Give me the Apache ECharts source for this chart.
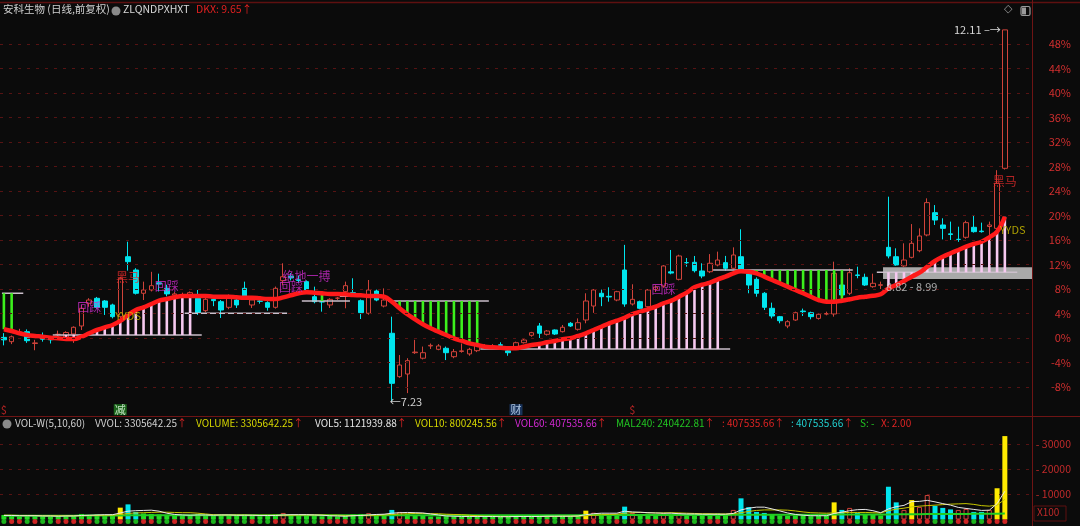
<!DOCTYPE html>
<html><head><meta charset="utf-8">
<script src="https://cdn.jsdelivr.net/npm/echarts@6/dist/echarts.min.js"></script>
<style>html,body{margin:0;padding:0;background:#0b0b0b;}#c{width:1080px;height:526px;}</style>
</head><body><div id="c"></div>
<script>
// ---------- DATA ----------
const days = Array.from({length: 133}, (_, i) => 'D' + (i + 1));
// [open, close, low, high] in % vs base
const candles = [
[0.1,-0.3,-1.2,0.8],[-0.6,0.2,-1.0,0.4],[0.8,1.0,0.5,1.5],[1.03,-0.44,-0.8,1.4],[-0.9,-0.8,-2.0,-0.3],
[0,-0.2,-0.6,0.9],[-0.2,-0.3,-0.9,0.2],[0.6,0.6,0.2,1.2],[0.1,0.9,-0.2,1.1],[0.65,1.75,-0.8,1.9],
[1.96,4.85,1.3,5.4],[5.66,6.2,5.1,6.5],[6.48,5.01,4.8,6.7],[6.04,5.01,3.76,6.2],[5.39,3.48,3.2,5.6],
[3.48,9.75,3.2,10.0],[13.27,12.46,11.0,15.72],[11.1,7.3,7.1,11.4],[7.3,7.84,6.2,9.2],[7.84,8.54,7.6,10.8],
[9.0,8.8,7.6,10.5],[8.1,7.2,6.8,8.7],[7.0,7.2,6.6,7.5],[6.9,7.1,6.7,7.4],[6.64,7.4,6.4,7.6],
[6.48,4.14,3.76,7.84],[4.46,6.31,4.2,6.6],[6.3,6.1,5.2,6.8],[5.93,4.57,3.27,6.2],[5.01,6.86,4.7,7.1],
[6.2,5.39,4.9,6.5],[8.11,6.86,6.2,9.2],[5.39,6.2,4.9,6.4],[6.04,6.0,5.6,6.3],[5.77,5.01,4.46,6.0],
[5.01,8.11,4.8,8.4],[9.36,10.0,8.6,12.2],[10.1,9.8,9.4,10.6],[9.5,9.4,9.0,10.2],[9.2,7.84,7.6,9.4],
[6.74,5.93,5.66,8.38],[5.9,5.9,4.3,6.2],[5.39,6.31,4.9,6.5],[6.5,6.5,6.2,6.7],[7.56,8.54,4.85,9.2],
[7.4,7.2,6.8,9.75],[6.09,4.14,3.1,6.3],[4.03,7.84,3.8,9.47],[7.67,6.2,6.0,7.9],[5.22,6.2,5.0,8.1],
[0.77,-7.4,-10.4,3.48],[-6.31,-4.41,-6.5,-2.78],[-5.88,-3.7,-9.0,-3.3],[-2.4,-2.3,-2.6,-0.3],[-3.3,-2.4,-3.5,-1.4],
[-1.3,-1.2,-1.8,-0.9],[-1.85,-1.3,-2.0,-1.0],[-1.68,-2.4,-3.6,-1.4],[-3.05,-2.24,-3.3,-1.8],[-2.2,-2.1,-2.4,-0.9],
[-2.6,-1.85,-2.9,-1.6],[-2.07,-1.14,-2.3,-0.9],[-1.5,-1.4,-1.8,-1.0],[-1.4,-1.3,-1.7,-1.0],[-1.1,-1.2,-1.5,-0.7],
[-2.1,-2.4,-2.9,-1.9],[-1.68,-0.77,-1.9,-0.6],[-0.77,-0.33,-0.9,0],[0.44,0.87,0.2,1.0],[1.96,0.77,0.0,2.45],
[0.6,1.14,0.4,1.3],[1.31,0.65,0.5,1.4],[1.03,1.75,0.9,2.12],[2.4,1.96,1.8,2.6],[1.42,2.5,1.2,3.2],
[2.94,6.04,2.4,7.3],[5.22,7.84,4.1,8.0],[7.3,6.74,5.2,7.9],[6.8,6.7,5.93,8.28],[6.2,7.56,6.0,7.7],
[11.1,5.55,5.1,15.2],[5.55,6.31,5.3,8.77],[5.93,4.85,4.7,6.1],[5.11,7.84,4.9,8.0],[7.9,8.3,7.5,8.6],
[8.49,11.76,8.2,11.9],[10.8,10.6,10.4,14.37],[9.58,13.39,9.4,13.6],[12.3,12.3,11.64,13.06],[12.36,10.99,10.7,13.39],
[10.94,10.12,9.75,12.2],[10.82,12.2,10.6,13.7],[11.92,12.73,11.7,14.1],[12.3,11.38,11.0,13.4],[11.38,13.55,11.2,14.8],
[13.27,11.2,11.1,17.75],[10.45,8.65,7.3,10.8],[9.58,7.3,6.74,9.9],[7.3,5.01,4.57,7.5],[4.85,3.59,3.2,5.77],
[3.48,2.82,2.4,3.6],[1.96,2.66,1.6,2.9],[2.94,4.13,2.8,4.3],[4.4,4.3,3.6,4.8],[4.13,3.48,3.05,4.3],
[3.2,3.87,3.0,4.0],[3.9,4.0,3.7,4.3],[3.92,10.56,3.48,12.46],[8.65,7.02,6.0,9.0],[7.3,10.66,7.0,11.4],
[10.3,10.2,9.75,11.64],[9.91,8.65,8.5,10.5],[8.38,8.93,8.2,10.5],[8.6,8.7,8.0,9.2],[14.8,13.39,13.0,23.07],
[13.27,11.92,11.8,14.64],[11.76,12.73,11.6,15.46],[13.17,15.46,13.0,18.6],[14.25,16.65,14.0,17.9],[16.82,22.1,16.6,22.8],
[20.46,19.26,18.45,21.7],[18.45,17.9,16.1,19.54],[17.0,16.9,16.0,19.0],[16.1,16.1,15.7,18.17],[16.44,18.83,16.2,19.15],
[18.07,17.36,17.2,20.08],[17.45,17.36,17.2,18.83],[18.2,18.45,16.4,19.0],[17.9,25.26,17.6,27.4],[27.7,50.3,27.5,50.3]
];
const maLine = [
1.42,1.14,0.77,0.49,0.33,0.21,0.05,-0.05,-0.16,-0.16,
0.21,0.77,1.31,1.75,2.12,2.78,3.76,4.57,5.01,5.55,
6.09,6.37,6.64,6.86,6.86,6.86,6.86,6.74,6.74,6.74,
6.64,6.58,6.58,6.48,6.37,6.37,6.64,6.97,7.30,7.46,
7.40,7.30,7.18,7.18,7.13,7.02,6.97,6.86,6.86,6.74,
5.93,4.85,3.87,3.05,2.24,1.58,1.03,0.49,-0.05,-0.44,
-0.87,-1.14,-1.42,-1.52,-1.58,-1.68,-1.68,-1.42,-1.14,-0.98,
-0.70,-0.49,-0.21,-0.05,0.33,0.77,1.31,1.84,2.40,2.82,
3.31,3.92,4.29,4.69,5.11,5.67,6.09,6.74,7.40,8.28,
8.70,9.03,9.58,10.01,10.56,10.89,10.82,10.56,10.01,9.47,
8.93,8.38,7.84,7.30,6.74,6.20,5.93,5.93,6.09,6.32,
6.58,6.74,6.91,7.13,8.11,8.65,9.31,10.01,10.66,11.64,
12.57,13.27,13.83,14.37,14.91,15.35,15.72,16.44,17.36,19.80
];
const volumes = [
1800,1500,1200,1600,1400,1300,1200,1300,1500,1600,
2200,1800,2000,1700,2100,4700,6000,3000,2400,2200,
2000,1800,1600,1500,1700,2200,1900,1500,1800,1700,
1400,2000,1500,1300,1400,2000,2600,1800,1600,1700,
1500,1300,1400,1200,1500,2000,2200,2500,2000,1800,
3800,3000,2200,1500,1400,1200,1200,1300,1200,1100,
1200,1300,1100,1000,1100,1200,1300,1200,1100,1400,
1200,1300,1400,1300,1600,3500,2700,2300,2000,1800,
5100,2600,2000,2300,1900,2500,2200,2600,1800,2000,
1700,2000,2400,2200,3800,8400,4900,3000,2600,2000,
1600,1400,1600,1500,1300,1400,1500,6800,3800,4600,
2600,2200,1800,1600,13000,6800,3800,7700,5000,9700,
5400,4600,4000,3800,4200,3000,3000,3800,12400,33100
];
const vol5 = [
1600,1600,1500,1500,1500,1400,1400,1300,1400,1400,
1600,1700,1800,1900,1900,2600,3300,3500,3600,3700,
3300,2500,2000,1800,1700,1800,1800,1700,1800,1800,
1700,1700,1700,1600,1600,1600,1800,1900,1900,1900,
1800,1700,1500,1400,1300,1500,1600,1800,2000,2100,
2500,2700,2800,2700,2600,2200,1800,1400,1300,1200,
1200,1200,1200,1200,1100,1100,1200,1200,1200,1200,
1300,1300,1300,1300,1400,1900,2300,2500,2500,2500,
3300,3000,2900,2700,2600,2500,2500,2300,2200,2200,
2100,2100,2100,2100,2400,3800,4500,4900,4900,4200,
3400,2600,2000,1700,1500,1500,1500,2400,2900,3500,
3900,4000,3500,2700,4200,5100,5600,7100,7200,7600,
7000,6300,5700,4800,4400,4000,3600,3700,6300,11200
];
const vol10 = [
1700,1700,1600,1600,1600,1500,1500,1500,1500,1500,
1500,1600,1600,1700,1700,2000,2400,2600,2700,2800,
2900,2900,2800,2700,2700,2500,2200,1900,1800,1800,
1800,1800,1700,1700,1700,1700,1700,1700,1800,1800,
1800,1800,1700,1700,1600,1600,1600,1600,1700,1800,
2000,2200,2300,2400,2400,2300,2300,2100,2000,1900,
1700,1500,1300,1300,1200,1200,1200,1200,1200,1200,
1200,1200,1300,1300,1300,1500,1700,1900,2000,2100,
2500,2700,2800,2700,2600,2600,2700,2600,2500,2400,
2300,2300,2200,2200,2300,2700,3200,3600,3800,3800,
3800,3700,3400,3000,2700,2600,2500,2600,2700,2800,
2800,2800,2700,2600,3500,4100,4500,5000,5300,5500,
5700,5900,6100,6200,6300,6000,5500,5300,5700,8000
];
const mal240 = [
1500,1500,1500,1500,1500,1500,1500,1500,1500,1500,
1550,1550,1550,1550,1550,1600,1650,1650,1650,1650,
1650,1650,1650,1650,1650,1650,1650,1650,1650,1650,
1650,1650,1650,1650,1650,1650,1650,1650,1650,1650,
1650,1650,1650,1650,1650,1650,1650,1650,1650,1650,
1700,1700,1700,1700,1700,1700,1700,1700,1700,1700,
1700,1700,1700,1700,1700,1700,1700,1700,1700,1700,
1700,1700,1700,1700,1700,1750,1750,1750,1750,1750,
1800,1800,1800,1800,1800,1800,1800,1800,1800,1800,
1800,1800,1800,1800,1850,1900,1900,1900,1900,1900,
1900,1900,1900,1900,1900,1900,1900,1950,1950,1950,
1950,1950,1950,1950,2000,2050,2050,2100,2100,2150,
2150,2150,2200,2200,2200,2250,2250,2250,2300,2400
];
const spikeDays = [15, 75, 107, 117, 128, 129];
// zones: [firstIndex, lastIndex, baseline %]
const pinkZones = [[8, 24, 0.49], [69, 92, -1.80], [114, 129, 10.73]];
const greenZones = [[0, 1, 7.30], [41, 41, 6.04], [51, 61, 6.04], [96, 108, 11.10]];
// baselines: [fromIndex, toIndex, level %]
const baseLines = [[-0.25, 2.5, 7.30], [6.3, 25.5, 0.49], [23.3, 36.5, 4.03], [38.4, 44.6, 6.04],
  [43.3, 49.0, 6.8], [49.5, 62.5, 6.04], [61.4, 93.6, -1.80], [91.4, 109.4, 11.10], [112.5, 130.6, 10.73]];
const supportBand = [[113.3, 132.6, 9.63, 11.54]];
const tagsMagenta = [[11, 5.06, '回踩'], [21, 8.49, '回踩'], [37, 8.24, '回踩'], [39, 10.12, '绝地一搏'], [85, 8.0, '回踩']];
const tagsRed = [[16, 9.88, '黑马'], [129, 25.5, '黑马']];
const tagsYellow = [[16, 3.64, 'YYDS'], [130, 17.6, 'YYDS']];
const tagsGray = [[117, 8.33, '8.82 - 8.99']];
const bottomMarks = [[0, '$'], [15, '减'], [66, '财'], [81, '$']];
const pctTicks = [-8, -4, 0, 4, 8, 12, 16, 20, 24, 28, 32, 36, 40, 44, 48];
const volTicks = [10000, 20000, 30000];

// ---------- CHART ----------
const FONT = '"Noto Sans CJK SC","Noto Sans",sans-serif';
const BG = '#0b0b0b';
const chart = echarts.init(document.getElementById('c'), null, {renderer: 'canvas'});

const zoneBars = [];
pinkZones.forEach(([s, e, b]) => { for (let i = s; i <= e; i++) zoneBars.push([i, b, maLine[i], 0]); });
greenZones.forEach(([s, e, b]) => { for (let i = s; i <= e; i++) zoneBars.push([i, b, maLine[i], 1]); });

function stepX(api, v) {
  const a = api.coord([0, v]), b = api.coord([1, v]);
  return [a[0], b[0] - a[0], a[1]];
}

const volData = volumes.map((v, i) => {
  const c = candles[i];
  const up = c[1] >= c[0];
  let st;
  if (spikeDays.includes(i)) st = {color: '#ffea00'};
  else if (v < 2500) st = {color: '#22dd22'};
  else if (up) st = {color: BG, borderColor: '#d0433a', borderWidth: 1};
  else st = {color: '#00e5ee'};
  return {value: v, itemStyle: st};
});
const dots = candles.map((c, i) => ({value: [i, 0], itemStyle: {color: c[1] >= c[0] ? '#ff2a2a' : '#22dd22'}}));

const markStyle = {type: [3, 6], color: '#561313', width: 1};

function hdr(x, parts) {
  return {type: 'text', left: x, top: 418, z: 100, style: {
    text: parts.map(p => '{' + p[0] + '|' + p[1] + '}').join(''),
    rich: {
      g: {fill: '#cfcfcf', fontSize: 10, fontFamily: FONT},
      y: {fill: '#d6d600', fontSize: 10, fontFamily: FONT},
      w: {fill: '#e6e6e6', fontSize: 10, fontFamily: FONT},
      m: {fill: '#d42ad4', fontSize: 10, fontFamily: FONT},
      gr: {fill: '#22c422', fontSize: 10, fontFamily: FONT},
      r: {fill: '#e02424', fontSize: 10, fontFamily: FONT},
      c: {fill: '#22d0d0', fontSize: 10, fontFamily: FONT}
    }}};
}

const option = {
  backgroundColor: BG,
  animation: false,
  grid: [
    {left: 0, top: 3, width: 1032, height: 408.5},
    {left: 0, top: 417, width: 1032, height: 102.5}
  ],
  xAxis: [
    {type: 'category', data: days, gridIndex: 0, boundaryGap: true, show: false},
    {type: 'category', data: days, gridIndex: 1, boundaryGap: true, show: false}
  ],
  yAxis: [
    {type: 'value', gridIndex: 0, position: 'right', min: -12, max: 54.69, interval: 4,
     axisLine: {show: true, lineStyle: {color: '#6e1414', width: 1}}, axisTick: {show: false},
     splitLine: {show: false},
     axisLabel: {show: true, align: 'right', margin: 39, color: '#d22f2f', fontSize: 11, fontFamily: FONT,
       formatter: v => pctTicks.includes(v) ? v + '%' : ''}},
    {type: 'value', gridIndex: 1, position: 'right', min: 0, max: 40675, interval: 10000,
     axisLine: {show: true, lineStyle: {color: '#6e1414', width: 1}},
     axisTick: {show: false},
     splitLine: {show: false},
     axisLabel: {show: true, align: 'right', margin: 39, color: '#c02a2a', fontSize: 10.5, fontFamily: FONT,
       formatter: v => volTicks.includes(v) ? '- ' + v : ''}}
  ],
  series: [
    {type: 'custom', name: 'band', xAxisIndex: 0, yAxisIndex: 0, z: 1, clip: true, silent: true,
     data: supportBand, encode: {x: [0, 1], y: [2, 3]},
     renderItem: (p, api) => {
       const lo = stepX(api, api.value(2)), hi = stepX(api, api.value(3));
       const x1 = lo[0] + api.value(0) * lo[1], x2 = lo[0] + api.value(1) * lo[1];
       return {type: 'rect', shape: {x: x1, y: hi[2], width: x2 - x1, height: lo[2] - hi[2]}, style: {fill: '#a9a9a9'}};
     }},
    {type: 'candlestick', name: 'K', xAxisIndex: 0, yAxisIndex: 0, z: 2, barWidth: 5,
     data: candles,
     itemStyle: {color: BG, color0: '#00e5ee', borderColor: '#d0433a', borderColor0: '#00e5ee', borderWidth: 1},
     markLine: {silent: true, symbol: 'none', label: {show: false}, lineStyle: markStyle,
       data: pctTicks.map(v => ({yAxis: v}))},
     markPoint: {silent: true, symbol: 'circle', symbolSize: 0,
       data: [
         {coord: [129, 50.3], label: {show: true, position: 'left', distance: 4, formatter: '12.11 ‒→', color: '#d8d8d8', fontSize: 11, fontFamily: FONT}},
         {coord: [50, -10.4], label: {show: true, position: 'right', distance: -2, formatter: '←7.23', color: '#d0d0d0', fontSize: 11, fontFamily: FONT}}
       ]}},
    {type: 'custom', name: 'baselines', xAxisIndex: 0, yAxisIndex: 0, z: 3, clip: true, silent: true,
     data: baseLines, encode: {x: [0, 1], y: 2},
     renderItem: (p, api) => {
       const s = stepX(api, api.value(2));
       return {type: 'line', shape: {x1: s[0] + api.value(0) * s[1], y1: s[2], x2: s[0] + api.value(1) * s[1], y2: s[2]},
         style: {stroke: '#cbbfcb', lineWidth: 1.5}};
     }},
    {type: 'custom', name: 'zones', xAxisIndex: 0, yAxisIndex: 0, z: 3, clip: true, silent: true,
     data: zoneBars, encode: {x: 0, y: [1, 2]},
     renderItem: (p, api) => {
       const a = api.coord([api.value(0), api.value(1)]);
       const b = api.coord([api.value(0), api.value(2)]);
       return {type: 'line', shape: {x1: a[0], y1: a[1], x2: b[0], y2: b[1]},
         style: {stroke: api.value(3) ? '#3cf01c' : '#f6c9f0', lineWidth: 2.6}};
     }},
    {type: 'line', name: 'DKX', xAxisIndex: 0, yAxisIndex: 0, z: 4, data: maLine, smooth: 0.4, symbol: 'none',
     lineStyle: {color: '#ff1a1a', width: 4.5}},
    {type: 'scatter', xAxisIndex: 0, yAxisIndex: 0, z: 5, symbolSize: 0, silent: true, data: tagsMagenta,
     label: {show: true, position: 'inside', formatter: p => p.data[2], color: '#cc2ccc', fontSize: 12, fontFamily: FONT}},
    {type: 'scatter', xAxisIndex: 0, yAxisIndex: 0, z: 5, symbolSize: 0, silent: true, data: tagsRed,
     label: {show: true, position: 'inside', formatter: p => p.data[2], color: '#e02a2a', fontSize: 12, fontFamily: FONT}},
    {type: 'scatter', xAxisIndex: 0, yAxisIndex: 0, z: 5, symbolSize: 0, silent: true, data: tagsYellow,
     label: {show: true, position: 'inside', formatter: p => p.data[2], color: '#cfc000', fontSize: 11, fontFamily: FONT}},
    {type: 'scatter', xAxisIndex: 0, yAxisIndex: 0, z: 5, symbolSize: 0, silent: true, data: tagsGray,
     label: {show: true, position: 'inside', formatter: p => p.data[2], color: '#d0d0d0', fontSize: 11, fontFamily: FONT}},
    {type: 'scatter', xAxisIndex: 0, yAxisIndex: 0, z: 5, symbolSize: 0, silent: true,
     data: bottomMarks.map(m => ({value: [m[0], -11.7], name: m[1],
       label: m[1] === '$' ? {color: '#e02a2a', backgroundColor: 'transparent'} :
              m[1] === '减' ? {color: '#e8ffe8', backgroundColor: '#1f7a1f'} : {color: '#cfe6ff', backgroundColor: '#1b3c6e'}})),
     label: {show: true, position: 'inside', formatter: p => p.name, fontSize: 11, fontFamily: FONT, padding: [0, 1]}},
    // volume panel
    {type: 'bar', xAxisIndex: 1, yAxisIndex: 1, z: 2, barWidth: 5, data: volData,
     markLine: {silent: true, symbol: 'none', label: {show: false}, lineStyle: markStyle,
       data: volTicks.map(v => ({yAxis: v}))}},
    {type: 'line', xAxisIndex: 1, yAxisIndex: 1, z: 3, data: mal240, symbol: 'none', lineStyle: {color: '#22cc22', width: 2}},
    {type: 'line', xAxisIndex: 1, yAxisIndex: 1, z: 3, data: vol10, symbol: 'none', lineStyle: {color: '#c8c800', width: 1}},
    {type: 'line', xAxisIndex: 1, yAxisIndex: 1, z: 3, data: vol5, symbol: 'none', lineStyle: {color: '#e8e8e8', width: 1}},
    {type: 'scatter', xAxisIndex: 1, yAxisIndex: 1, z: 4, data: dots, symbolSize: 5, symbolOffset: [0, 2], clip: false, silent: true}
  ],
  graphic: [
    {type: 'line', shape: {x1: 0, y1: 2.5, x2: 1080, y2: 2.5}, style: {stroke: '#5e1010', lineWidth: 1.5}, z: 100},
    {type: 'line', shape: {x1: 0, y1: 416.5, x2: 1080, y2: 416.5}, style: {stroke: '#6e1414', lineWidth: 1.2}, z: 100},
    {type: 'line', shape: {x1: 1032.5, y1: 0, x2: 1032.5, y2: 526}, style: {stroke: '#6e1414', lineWidth: 1}, z: 100},
    {type: 'text', left: 3, top: 4, z: 100, style: {text: '安科生物 (日线,前复权)', fill: '#d0d0d0', fontSize: 10.5, fontFamily: FONT}},
    {type: 'circle', shape: {cx: 116, cy: 11, r: 4.5}, style: {fill: '#8a8a8a'}, z: 100},
    {type: 'text', left: 123, top: 4, z: 100, style: {text: 'ZLQNDPXHXT', fill: '#d8d8d8', fontSize: 10.5, fontFamily: FONT}},
    {type: 'text', left: 196, top: 4, z: 100, style: {text: 'DKX: 9.65↑', fill: '#e02020', fontSize: 10.5, fontFamily: FONT}},
    {type: 'text', left: 1004, top: 4, z: 100, style: {text: '◇', fill: '#9a9a9a', fontSize: 11, fontFamily: 'DejaVu Sans'}},
    {type: 'rect', shape: {x: 1021, y: 6.5, width: 9, height: 9, r: 1.5}, style: {fill: 'none', stroke: '#9a9a9a', lineWidth: 1.2}, z: 100},
    {type: 'rect', shape: {x: 1022, y: 7.5, width: 4, height: 7}, style: {fill: '#9a9a9a'}, z: 100},
    {type: 'circle', shape: {cx: 7, cy: 424, r: 4.5}, style: {fill: '#8a8a8a'}, z: 100},
    hdr(15, [['g', 'VOL-W(5,10,60)']]),
    hdr(95, [['g', 'VVOL: 3305642.25'], ['r', '↑']]),
    hdr(196, [['y', 'VOLUME: 3305642.25'], ['r', '↑']]),
    hdr(315, [['w', 'VOL5: 1121939.88'], ['r', '↑']]),
    hdr(415, [['y', 'VOL10: 800245.56'], ['r', '↑']]),
    hdr(515, [['m', 'VOL60: 407535.66'], ['r', '↑']]),
    hdr(616, [['gr', 'MAL240: 240422.81'], ['r', '↑']]),
    hdr(722, [['r', ': 407535.66↑']]),
    hdr(791, [['c', ': 407535.66'], ['r', '↑']]),
    hdr(860, [['gr', 'S: -']]),
    hdr(881, [['r', 'X: 2.00']]),
    {type: 'rect', shape: {x: 1034, y: 506, width: 32, height: 15}, style: {fill: 'none', stroke: '#5e1010', lineWidth: 1}, z: 100},
    {type: 'text', left: 1037, top: 507, z: 100, style: {text: 'X100', fill: '#c02a2a', fontSize: 10, fontFamily: FONT}}
  ]
};
chart.setOption(option);
</script>
</body></html>
